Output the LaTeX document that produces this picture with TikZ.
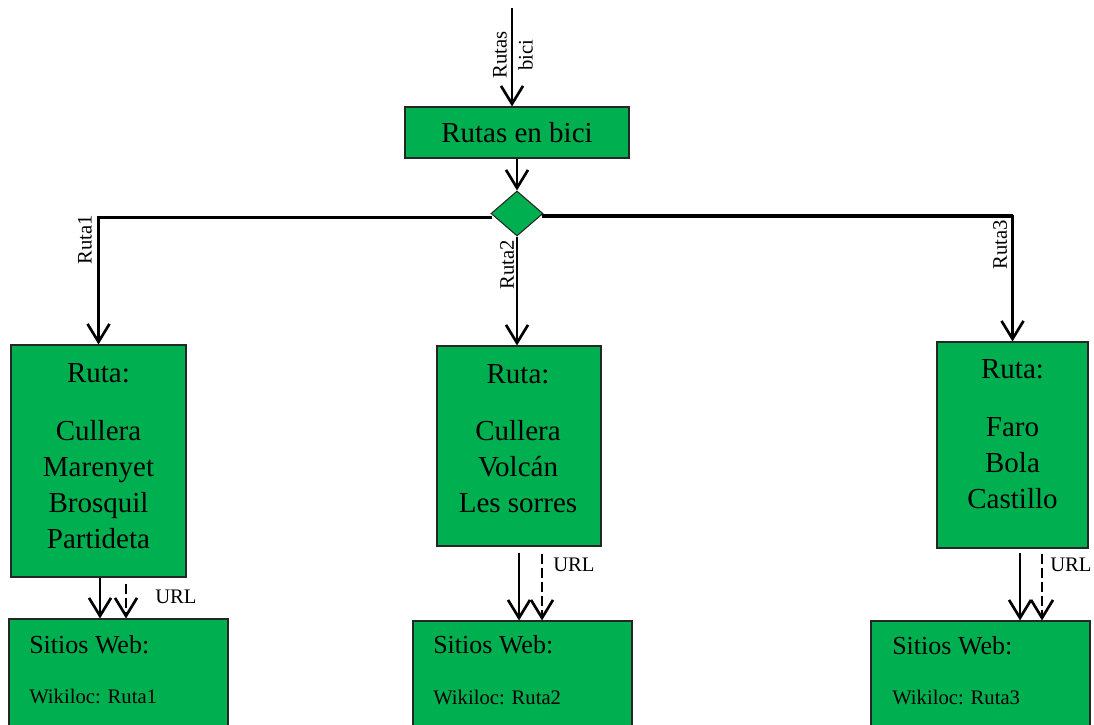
\documentclass[tikz,border=0pt]{standalone}
\usepackage{fontspec}
\setmainfont{Liberation Serif}
\usetikzlibrary{arrows.meta,shapes.geometric,calc}
\definecolor{boxgreen}{HTML}{00B050}
\newcommand\txtbig{\fontsize{21.75pt}{27pt}\selectfont}
\newcommand\txtmid{\fontsize{19.5pt}{24pt}\selectfont}
\newcommand\txtsmall{\fontsize{15.5pt}{19.5pt}\selectfont}
\begin{document}
\begin{tikzpicture}[x=0.75pt,y=-0.75pt,
  box/.style={rectangle,draw=black!85,line width=0.8pt,fill=boxgreen,inner sep=0pt},
  tip/.style={-{Straight Barb[length=13.5pt,width=16.5pt,line width=2pt]}},
  arr/.style={line width=2pt,tip},
  dasharr/.style={arr,dash pattern=on 7.5pt off 3pt},
  txt/.style={inner sep=0pt,align=center},
  lbl/.style={inner sep=0pt,align=center,font=\txtsmall}]
\useasboundingbox (0,0) rectangle (1094,724);

% entry box and decision
\node[box,minimum width=224*0.75pt,minimum height=51*0.75pt,font=\txtbig] (bici) at (517,132.5) {Rutas en bici};
\node[diamond,draw=black!85,line width=0.8pt,fill=boxgreen,inner sep=0pt,
      minimum width=52*0.75pt,minimum height=45*0.75pt] (dec) at (517,213.5) {};

% route boxes
\node[box,minimum width=175*0.75pt,minimum height=232*0.75pt] (r1) at (98.5,461) {};
\node[box,minimum width=164*0.75pt,minimum height=200*0.75pt] (r2) at (519,446) {};
\node[box,minimum width=151*0.75pt,minimum height=206*0.75pt] (r3) at (1012.5,445) {};

% (base of a multi-line node = baseline of its last line)
\node[txt,font=\txtbig,anchor=base] (r1h) at (98.5,382) {Ruta:};
\node[txt,font=\txtbig,anchor=base] (r1t) at (98.5,548) {Cullera\\Marenyet\\Brosquil\\Partideta};
\node[txt,font=\txtbig,anchor=base] (r2h) at (518,383) {Ruta:};
\node[txt,font=\txtbig,anchor=base] (r2t) at (518,512) {Cullera\\Volcán\\Les sorres};
\node[txt,font=\txtbig,anchor=base] (r3h) at (1012.5,378) {Ruta:};
\node[txt,font=\txtbig,anchor=base] (r3t) at (1012.5,508) {Faro\\Bola\\Castillo};

% web site boxes
\node[box,minimum width=219*0.75pt,minimum height=126*0.75pt] (s1) at (118.5,682) {};
\node[box,minimum width=219*0.75pt,minimum height=126*0.75pt] (s2) at (522.5,684) {};
\node[box,minimum width=219*0.75pt,minimum height=126*0.75pt] (s3) at (980.5,684) {};

\node[txt,font=\txtmid,anchor=base west] (s1h) at (29,653) {Sitios Web:};
\node[txt,font=\txtsmall,anchor=base west] (s1t) at (29,703) {Wikiloc: Ruta1};
\node[txt,font=\txtmid,anchor=base west] (s2h) at (433,653) {Sitios Web:};
\node[txt,font=\txtsmall,anchor=base west] (s2t) at (433,704) {Wikiloc: Ruta2};
\node[txt,font=\txtmid,anchor=base west] (s3h) at (892,654) {Sitios Web:};
\node[txt,font=\txtsmall,anchor=base west] (s3t) at (892,704) {Wikiloc: Ruta3};

% incoming flow
\coordinate (in) at (512,8);
\draw[arr] (in) -- (in |- bici.north);
\node[lbl,rotate=90] (inlbl) at (513,55) {Rutas\\bici};
\draw[arr] (bici.south) -- (dec.north);

% branches
\coordinate (dw) at ($(dec.west)+(2,4)$);
\coordinate (de) at ($(dec.east)+(-2,2.5)$);
\draw[arr] (dw) -| (r1.north);
\draw[arr] (de) -| (r3.north);
\draw[arr] (dec.south) -- (dec.south |- r2.north);
\draw[line width=2.6pt] (dw) -- (dw -| r1.north);
\draw[line width=2.6pt] (de) -- (de -| r3.north);
\node[lbl,rotate=90] (l1) at (85,240) {Ruta1};
\node[lbl,rotate=90] (l2) at (507,265) {Ruta2};
\node[lbl,rotate=90] (l3) at (1000,245) {Ruta3};

% links to the web sites
\coordinate (a1) at ($(r1.south)+(1.5,0)$);
\coordinate (b1) at ($(r1.south)+(27.5,6)$);
\coordinate (a2) at ($(r2.south)+(0,6)$);
\coordinate (b2) at ($(r2.south)+(23,7)$);
\coordinate (a3) at ($(r3.south)+(7.5,4)$);
\coordinate (b3) at ($(r3.south)+(29.5,5)$);
\draw[arr] (a1) -- (a1 |- s1.north);
\draw[dasharr] (b1) -- (b1 |- s1.north);
\draw[arr] (a2) -- (a2 |- s2.north);
\draw[dasharr] (b2) -- (b2 |- s2.north);
\draw[arr] (a3) -- (a3 |- s3.north);
\draw[dasharr] (b3) -- (b3 |- s3.north);
\node[lbl,anchor=base west] (u1) at (155,603) {URL};
\node[lbl,anchor=base west] (u2) at (553,571) {URL};
\node[lbl,anchor=base west] (u3) at (1050,571) {URL};
\end{tikzpicture}
\end{document}
